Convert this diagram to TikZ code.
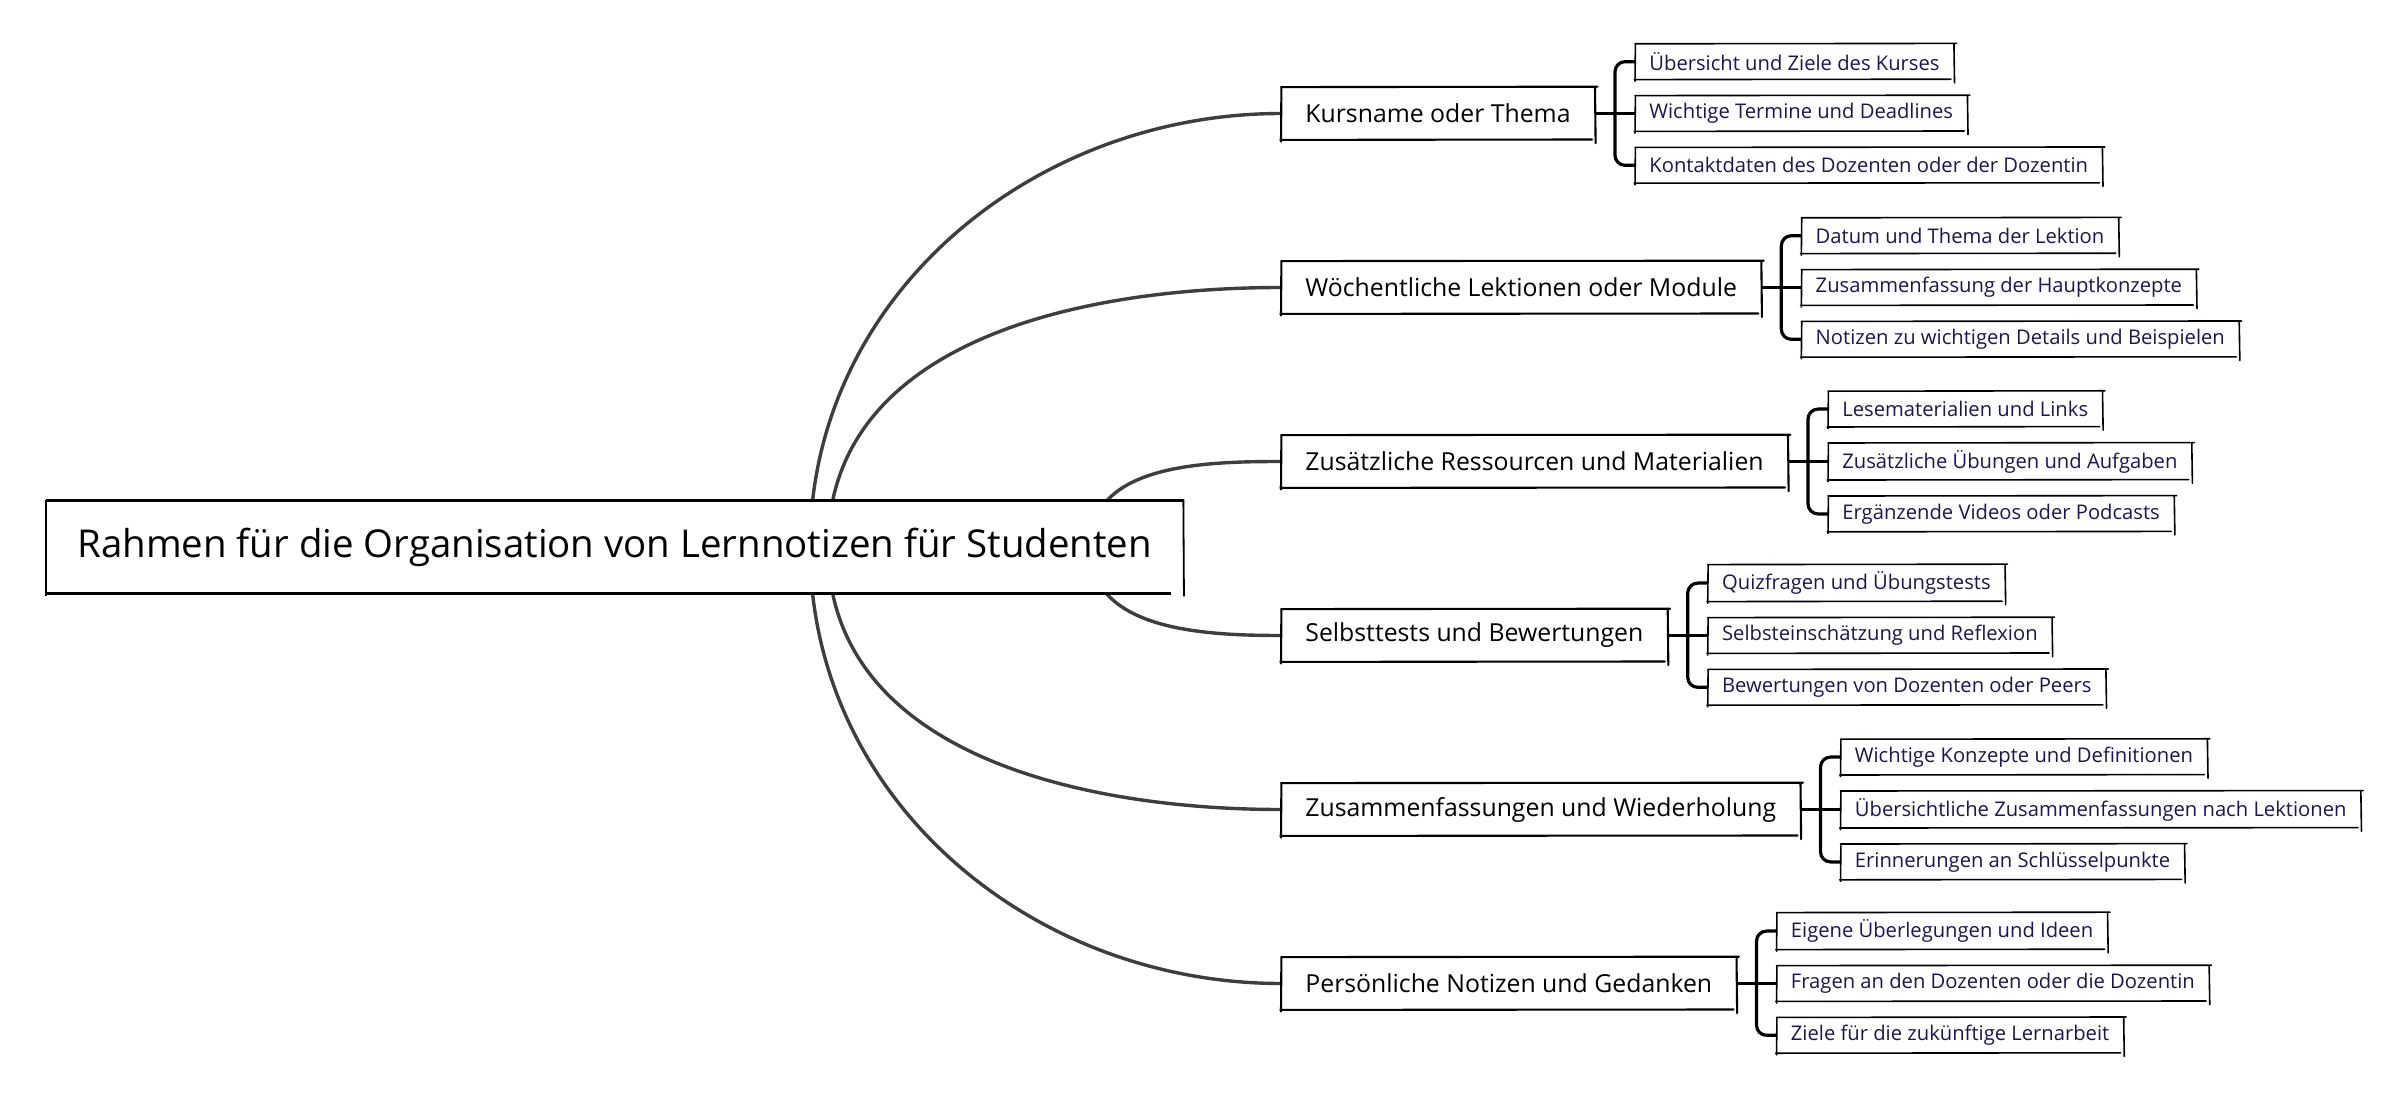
\documentclass[tikz,border=0pt]{standalone}
\usepackage{fontspec}
\setmainfont{Open Sans}
\usetikzlibrary{positioning, backgrounds}
\definecolor{InkNavy}{RGB}{28,22,82}
\definecolor{CurveGray}{RGB}{62,62,62}

% hand drawn frame round a node
\newcommand\sketchframe[2]{%
  \draw[line width=#2, line cap=round]
    (#1.north west) -- ([xshift=1.2pt,yshift=0.2pt]#1.north east)
    ([yshift=-0.3pt]#1.north east) -- ([xshift=0.3pt,yshift=-1.6pt]#1.south east)
    ([xshift=-1.5pt,yshift=0.2pt]#1.south east) -- ([xshift=-0.4pt]#1.south west)
    ([xshift=0.2pt]#1.north west) -- ([yshift=-0.8pt]#1.south west);
}

\tikzset{
  rootbox/.style={fill=white, inner xsep=15.5pt, minimum height=46.5pt,
    font=\fontsize{19.2}{23}\selectfont, anchor=west},
  topicbox/.style={fill=white, inner xsep=12pt, minimum height=26pt,
    font=\fontsize{12.4}{15}\selectfont, anchor=west},
  leafbox/.style={fill=white, inner xsep=7pt, minimum height=17.5pt,
    font=\fontsize{10.1}{12}\selectfont, text=InkNavy},
  branchline/.style={draw=CurveGray, line width=1.7pt},
  bracketline/.style={draw=black, line width=1.6pt, rounded corners=5pt},
}

\begin{document}
\begin{tikzpicture}[x=0.5pt, y=-0.5pt]
\useasboundingbox (0,0) rectangle (2400,1113);

\node[rootbox] (root) at (46,547)
  {Rahmen für die Organisation von Lernnotizen für Studenten};

\node[topicbox] (kurs)  at (1281,113.5) {Kursname oder Thema};
\node[topicbox] (woche) at (1281,287.5) {Wöchentliche Lektionen oder Module};
\node[topicbox] (extra) at (1281,461.5) {Zusätzliche Ressourcen und Materialien};
\node[topicbox] (test)  at (1281,635.5) {Selbsttests und Bewertungen};
\node[topicbox] (summ)  at (1281,809.5) {Zusammenfassungen und Wiederholung};
\node[topicbox] (eigen) at (1281,983.5) {Persönliche Notizen und Gedanken};

% Kursname
\node[leafbox, right=20pt of kurs] (kurs2) {Wichtige Termine und Deadlines};
\node[leafbox, above=8pt of kurs2.north west, anchor=south west] (kurs1) {Übersicht und Ziele des Kurses};
\node[leafbox, below=8pt of kurs2.south west, anchor=north west] (kurs3) {Kontaktdaten des Dozenten oder der Dozentin};
% Lektionen
\node[leafbox, right=20pt of woche] (woche2) {Zusammenfassung der Hauptkonzepte};
\node[leafbox, above=8pt of woche2.north west, anchor=south west] (woche1) {Datum und Thema der Lektion};
\node[leafbox, below=8pt of woche2.south west, anchor=north west] (woche3) {Notizen zu wichtigen Details und Beispielen};
% Ressourcen
\node[leafbox, right=20pt of extra] (extra2) {Zusätzliche Übungen und Aufgaben};
\node[leafbox, above=8pt of extra2.north west, anchor=south west] (extra1) {Lesematerialien und Links};
\node[leafbox, below=8pt of extra2.south west, anchor=north west] (extra3) {Ergänzende Videos oder Podcasts};
% Selbsttests
\node[leafbox, right=20pt of test] (test2) {Selbsteinschätzung und Reflexion};
\node[leafbox, above=8pt of test2.north west, anchor=south west] (test1) {Quizfragen und Übungstests};
\node[leafbox, below=8pt of test2.south west, anchor=north west] (test3) {Bewertungen von Dozenten oder Peers};
% Wiederholung
\node[leafbox, right=20pt of summ] (summ2) {Übersichtliche Zusammenfassungen nach Lektionen};
\node[leafbox, above=8pt of summ2.north west, anchor=south west] (summ1) {Wichtige Konzepte und Definitionen};
\node[leafbox, below=8pt of summ2.south west, anchor=north west] (summ3) {Erinnerungen an Schlüsselpunkte};
% Gedanken
\node[leafbox, right=20pt of eigen] (eigen2) {Fragen an den Dozenten oder die Dozentin};
\node[leafbox, above=8pt of eigen2.north west, anchor=south west] (eigen1) {Eigene Überlegungen und Ideen};
\node[leafbox, below=8pt of eigen2.south west, anchor=north west] (eigen3) {Ziele für die zukünftige Lernarbeit};

% frames
\draw[line width=1.5pt] (root.north west) -- ([xshift=0.5pt]root.north east)
  ([xshift=-0.5pt]root.south west) -- ([xshift=-6pt]root.south east);
\draw[line width=0.9pt] (root.north west) -- ([yshift=-1pt]root.south west)
  ([yshift=0.3pt]root.north east) -- ([xshift=0.3pt,yshift=-1.2pt]root.south east);
\foreach \n in {kurs,woche,extra,test,summ,eigen}
  {\sketchframe{\n}{1.05pt}}
\foreach \n in {kurs,woche,extra,test,summ,eigen}
  {\sketchframe{\n1}{0.8pt} \sketchframe{\n2}{0.8pt} \sketchframe{\n3}{0.8pt}}

% brackets
\foreach \n in {kurs,woche,extra,test,summ,eigen}{
  \coordinate[right=10pt of \n] (\n j);
  \draw[bracketline] (\n1.west) -| (\n j) |- (\n3.west);
  \draw[bracketline] (\n.east) -- (\n2.west);
}

% curves from the root
\coordinate (up1) at (810,547);
\coordinate (up2) at (828,547);
\coordinate (up3) at (1090,547);
\begin{scope}[on background layer]
\draw[branchline] (up1) to[out=90, in=180] (kurs.west);
\draw[branchline] (up2) to[out=90, in=180] (woche.west);
\draw[branchline] (up3) to[out=90, in=180] (extra.west);
\draw[branchline] (up3) to[out=-90, in=180] (test.west);
\draw[branchline] (up2) to[out=-90, in=180] (summ.west);
\draw[branchline] (up1) to[out=-90, in=180] (eigen.west);
\end{scope}
\end{tikzpicture}
\end{document}
